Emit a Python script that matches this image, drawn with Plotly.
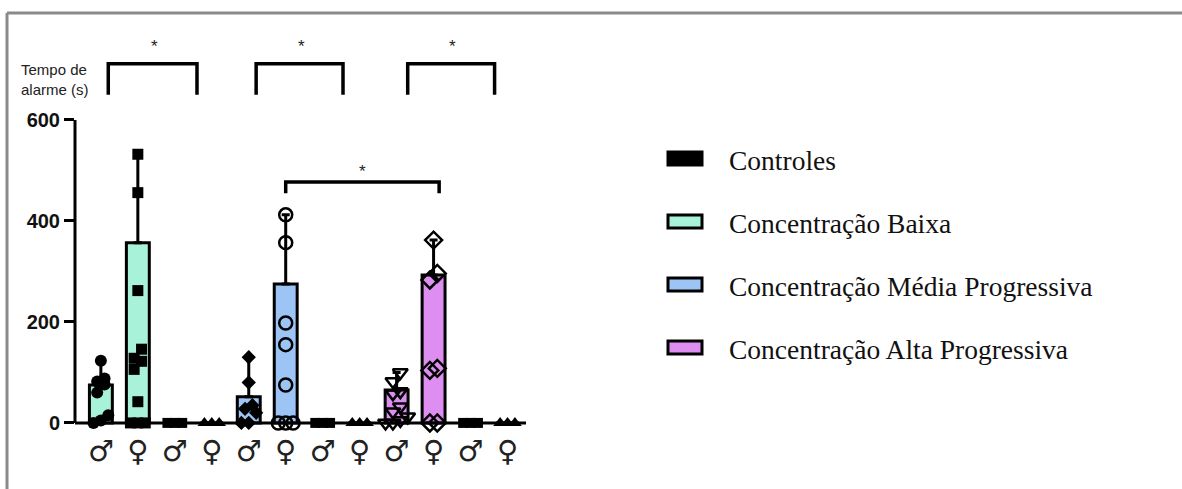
import plotly.graph_objects as go

# ---- data -------------------------------------------------------------
sex_labels = ["♂", "♀", "♂", "♀", "♂", "♀", "♂", "♀", "♂", "♀", "♂", "♀"]
bar_groups = [
    "Concentração Baixa", "Concentração Baixa", "Controles", "Controles",
    "Concentração Média Progressiva", "Concentração Média Progressiva", "Controles", "Controles",
    "Concentração Alta Progressiva", "Concentração Alta Progressiva", "Controles", "Controles",
]
bar_heights = [75, 357, 0, 0, 52, 275, 0, 0, 65, 293, 0, 0]

pts_baixa_m = [123, 88, 82, 76, 60, 15, 5, 0]
pts_baixa_f = [532, 456, 262, 146, 128, 122, 106, 42, 0, 0, 0]
pts_ctrl1_m = [0, 0, 0]
pts_ctrl1_f = [0, 0, 0]
pts_media_m = [130, 80, 35, 28, 20, 0, 0]
pts_media_f = [412, 357, 198, 155, 75, 0, 0, 0]
pts_ctrl2_m = [0, 0, 0]
pts_ctrl2_f = [0, 0, 0]
pts_alta_m = [100, 82, 62, 58, 32, 22, 12, 5, 0, 0]
pts_alta_f = [362, 296, 283, 108, 104, 0, 0]
pts_ctrl3_m = [0, 0, 0]
pts_ctrl3_f = [0, 0, 0]

legend_order = ["Controles", "Concentração Baixa",
                "Concentração Média Progressiva", "Concentração Alta Progressiva"]

y_ticks = [0, 200, 400, 600]
axis_title = "Tempo de<br>alarme (s)"

# significance brackets: (x start, x end) and star text
top_brackets = [(0.2, 2.6), (4.2, 6.55), (8.3, 10.65)]
mid_bracket = (5.0, 9.15)
sig_label = "*"

# ---- styles -----------------------------------------------------------
fills = {
    "Controles": "#000000",
    "Concentração Baixa": "#a9f2da",
    "Concentração Média Progressiva": "#9cc4f4",
    "Concentração Alta Progressiva": "#dd8ef0",
}
point_sets = [pts_baixa_m, pts_baixa_f, pts_ctrl1_m, pts_ctrl1_f,
              pts_media_m, pts_media_f, pts_ctrl2_m, pts_ctrl2_f,
              pts_alta_m, pts_alta_f, pts_ctrl3_m, pts_ctrl3_f]
symbols = ["circle", "square", "square", "triangle-up",
           "diamond", "circle-open", "square", "triangle-up",
           "triangle-down-open", "diamond-open", "square", "triangle-up"]
sizes = [12, 11, 10, 12, 11, 13, 10, 12, 13, 13, 10, 12]

W, H = 1182, 489
PL, PR, PT, PB = 75, 526, 29, 431   # plot area in pixels
X_RANGE = [-0.7, 11.5]
Y_RANGE = [-16, 780]


def fx(p):
    return (p - PL) / (PR - PL)


def fy(q):
    return (PB - q) / (PB - PT)


def swarm_offsets(values, spacing=0.2, tol=20):
    """Spread points with close values side by side."""
    order = sorted(range(len(values)), key=lambda i: values[i])
    offs = [0.0] * len(values)
    clusters, cur = [], []
    for i in order:
        if cur and values[i] - values[cur[0]] > tol:
            clusters.append(cur)
            cur = []
        cur.append(i)
    if cur:
        clusters.append(cur)
    for c in clusters:
        n = len(c)
        for k, i in enumerate(c):
            offs[i] = (k - (n - 1) / 2) * spacing
    return offs


fig = go.Figure()
xs = list(range(len(sex_labels)))

# bars with whiskers up to the highest point
for i in xs:
    g = bar_groups[i]
    top = max(point_sets[i])
    fig.add_trace(go.Bar(
        x=[i], y=[bar_heights[i]], width=0.62,
        marker=dict(color=fills[g], line=dict(color="black", width=3)),
        error_y=dict(type="data", symmetric=False,
                     array=[max(top - bar_heights[i], 0)], arrayminus=[0],
                     color="black", thickness=3, width=4,
                     visible=top > bar_heights[i]),
        showlegend=False, hoverinfo="skip",
    ))

# individual points
for i in xs:
    vals = point_sets[i]
    offs = swarm_offsets(vals)
    open_sym = symbols[i].endswith("open")
    fig.add_trace(go.Scatter(
        x=[i + o for o in offs], y=vals, mode="markers",
        marker=dict(symbol=symbols[i], size=sizes[i], color="black",
                    line=dict(color="black", width=2.5 if open_sym else 0)),
        cliponaxis=False, showlegend=False, hoverinfo="skip",
    ))

shapes = []
annotations = []

# axis lines
shapes.append(dict(type="line", xref="paper", yref="y", x0=0, x1=0, y0=0, y1=600,
                   line=dict(color="black", width=3)))
shapes.append(dict(type="line", xref="paper", yref="y", x0=0, x1=1, y0=0, y1=0,
                   line=dict(color="black", width=3)))

# significance brackets
for (a, b) in top_brackets:
    shapes.append(dict(type="path", xref="x", yref="y",
                       path=f"M {a},650 L {a},711 L {b},711 L {b},650",
                       line=dict(color="black", width=3.5)))
    annotations.append(dict(x=(a + b) / 2 + 0.05, y=745, xref="x", yref="y",
                            text=sig_label, showarrow=False,
                            font=dict(family="Liberation Sans", size=17, color="#222")))
a, b = mid_bracket
shapes.append(dict(type="path", xref="x", yref="y",
                   path=f"M {a},455 L {a},477 L {b},477 L {b},455",
                   line=dict(color="black", width=3.5)))
annotations.append(dict(x=(a + b) / 2, y=497, xref="x", yref="y",
                        text=sig_label, showarrow=False,
                        font=dict(family="Liberation Sans", size=17, color="#222")))

# axis title
annotations.append(dict(x=fx(19), y=fy(79), xref="paper", yref="paper",
                        xanchor="left", yanchor="middle", align="left",
                        text=axis_title, showarrow=False,
                        font=dict(family="Liberation Sans", size=15, color="#222")))

# legend
for k, name in enumerate(legend_order):
    cy = 159 + k * 63
    shapes.append(dict(type="rect", xref="paper", yref="paper",
                       x0=fx(668), x1=fx(702), y0=fy(cy - 7), y1=fy(cy + 6),
                       fillcolor=fills[name], line=dict(color="black", width=3)))
    annotations.append(dict(x=fx(727), y=fy(cy + 1), xref="paper", yref="paper",
                            xanchor="left", yanchor="middle", text=name,
                            showarrow=False,
                            font=dict(family="Liberation Serif", size=27.5, color="#111")))

# picture frame
shapes.append(dict(type="line", xref="paper", yref="paper",
                   x0=fx(7), x1=fx(1182), y0=fy(13), y1=fy(13),
                   line=dict(color="#8a8a8a", width=3)))
shapes.append(dict(type="line", xref="paper", yref="paper",
                   x0=fx(7), x1=fx(7), y0=fy(13), y1=fy(489),
                   line=dict(color="#8a8a8a", width=3)))

fig.update_layout(
    width=W, height=H,
    margin=dict(l=PL, r=W - PR, t=PT, b=H - PB, pad=0),
    paper_bgcolor="white", plot_bgcolor="white",
    barmode="overlay", showlegend=False,
    shapes=shapes, annotations=annotations,
    xaxis=dict(range=X_RANGE, tickvals=xs, ticktext=sex_labels,
               showgrid=False, zeroline=False, showline=False, ticks="",
               tickfont=dict(family="DejaVu Sans", size=29, color="#222")),
    yaxis=dict(range=Y_RANGE, tickvals=y_ticks, showgrid=False, zeroline=False,
               showline=False, ticks="outside", ticklen=10, tickwidth=3,
               tickcolor="black",
               tickfont=dict(family="Liberation Sans", size=20, color="#111",
                             weight="bold")),
)

fig.write_html("out.html")
